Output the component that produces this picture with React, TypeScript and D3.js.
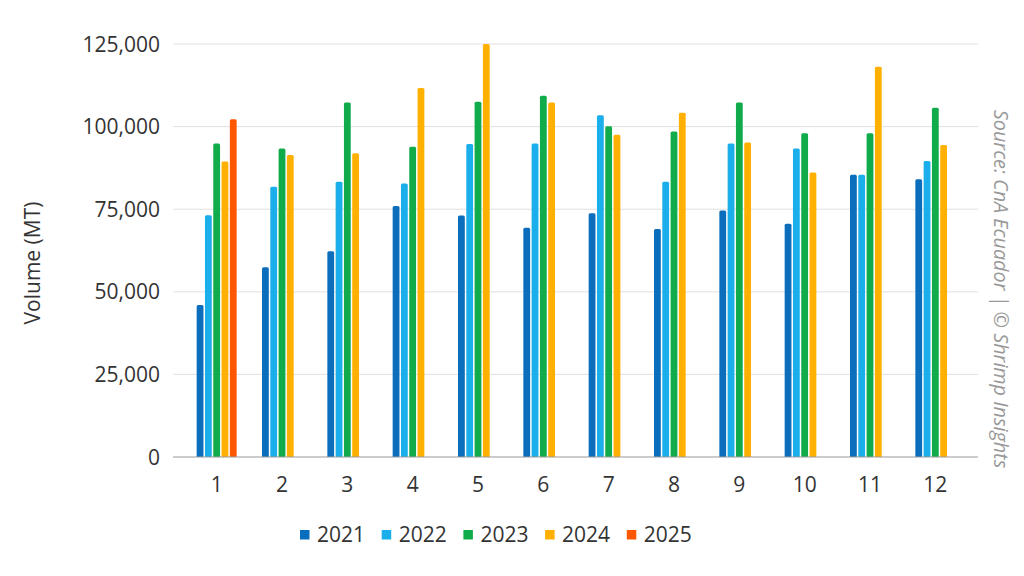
import React from "react";
import * as d3 from "d3";

const months = ["1", "2", "3", "4", "5", "6", "7", "8", "9", "10", "11", "12"];
const years = ["2021", "2022", "2023", "2024", "2025"];
const v2021 = [46000, 57400, 62300, 76000, 73100, 69400, 73800, 69000, 74600, 70600, 85400, 84100];
const v2022 = [73200, 81800, 83300, 82800, 94700, 94900, 103400, 83300, 94900, 93400, 85400, 89600];
const v2023 = [94900, 93400, 107300, 93900, 107500, 109300, 100100, 98500, 107300, 98000, 98000, 105700];
const v2024 = [89400, 91400, 91900, 111700, 125000, 107300, 97500, 104200, 95200, 86100, 118100, 94400];
const v2025: (number | null)[] = [102200, null, null, null, null, null, null, null, null, null, null, null];
const seriesValues: (number | null)[][] = [v2021, v2022, v2023, v2024, v2025];
const colors = ["#0a6ebd", "#1aaeea", "#10ab4a", "#ffb000", "#ff5700"];
const yTicks = [0, 25000, 50000, 75000, 100000, 125000];

const W = 1024;
const H = 576;
const FONT = "'Open Sans', sans-serif";

export default function App() {
  const x0 = d3.scaleBand<string>().domain(months).range([184, 968]).paddingInner(0.365).paddingOuter(0.1825);
  const x1 = d3.scaleBand<string>().domain(years).range([0, x0.bandwidth()]).paddingInner(0.18).paddingOuter(0.09);
  const y = d3.scaleLinear().domain([0, 125000]).range([457, 44]);
  const fmt = d3.format(",");
  const gx0 = 173;
  const gx1 = 978;
  const r = 1.5;

  const barPath = (x: number, w: number, yTop: number, yBot: number) => {
    const rr = Math.min(r, w / 2, (yBot - yTop) / 2);
    return `M${x},${yBot}V${yTop + rr}Q${x},${yTop} ${x + rr},${yTop}H${x + w - rr}Q${x + w},${yTop} ${x + w},${yTop + rr}V${yBot}Z`;
  };

  return (
    <svg width={W} height={H} style={{ position: "absolute", left: 0, top: 0, background: "#fff" }} fontFamily={FONT}>
      <rect x={0} y={0} width={W} height={H} fill="#fff" />
      {yTicks.map((t) => (
        <g key={t}>
          {t !== 0 && <line x1={gx0} x2={gx1} y1={y(t)} y2={y(t)} stroke="#e0e0e0" strokeWidth={1} />}
          <text x={160} y={y(t)} dy="0.36em" textAnchor="end" fontSize={21} fill="#333">
            {fmt(t)}
          </text>
        </g>
      ))}
      {months.map((m, i) => (
        <g key={m} transform={`translate(${x0(m)},0)`}>
          {years.map((yr, j) => {
            const v = seriesValues[j][i];
            if (v == null) return null;
            const bx = x1(yr)!;
            return <path key={yr} d={barPath(bx, x1.bandwidth(), y(v), y(0))} fill={colors[j]} />;
          })}
        </g>
      ))}
      <line x1={gx0} x2={gx1} y1={y(0)} y2={y(0)} stroke="#999" strokeWidth={1.2} />
      {months.map((m) => (
        <text key={m} x={x0(m)! + x0.bandwidth() / 2} y={492} textAnchor="middle" fontSize={21} fill="#333">
          {m}
        </text>
      ))}
      <text transform="translate(40,263) rotate(-90)" textAnchor="middle" fontSize={21} fill="#333">
        Volume (MT)
      </text>
      <text transform="translate(994,289) rotate(90)" textAnchor="middle" fontSize={19.8} fontStyle="italic" fill="#999">
        Source: CnA Ecuador | © Shrimp Insights
      </text>
      {years.map((yr, j) => {
        const lx = 300 + j * 81.7;
        return (
          <g key={yr}>
            <rect x={lx} y={530} width={9.5} height={9.5} fill={colors[j]} />
            <text x={lx + 17} y={542} fontSize={21} fill="#333">
              {yr}
            </text>
          </g>
        );
      })}
    </svg>
  );
}
